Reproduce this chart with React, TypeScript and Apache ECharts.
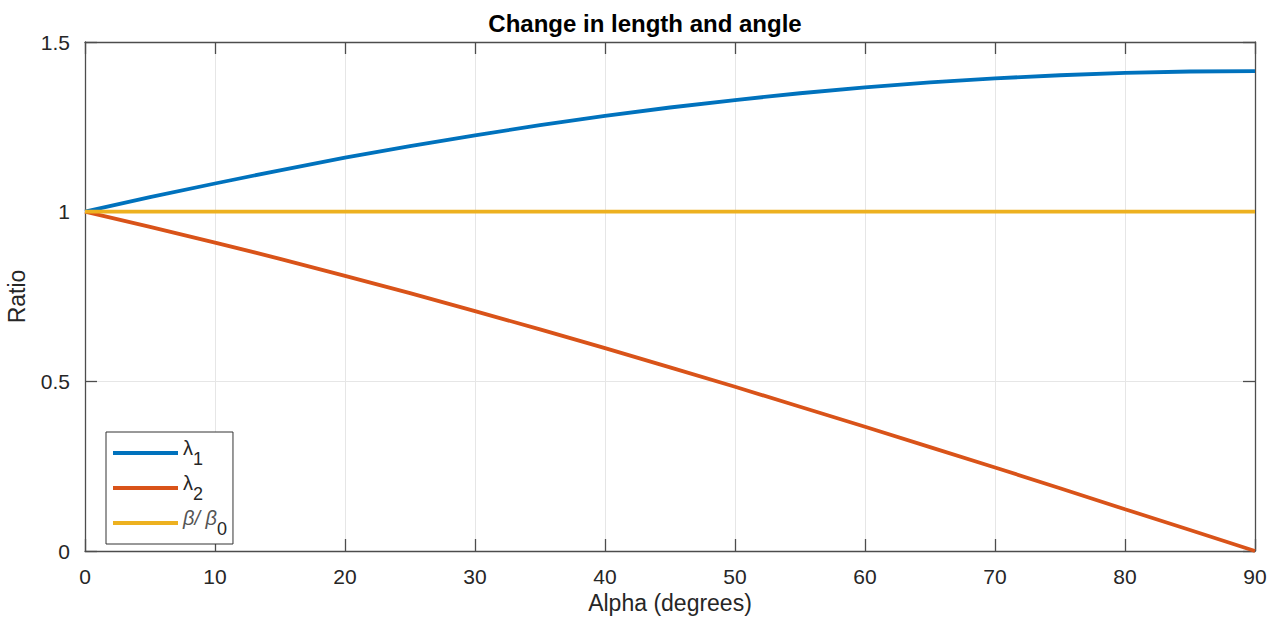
import React, { useEffect, useRef } from "react";
import * as echarts from "echarts";

const alphaDeg = [0, 5, 10, 15, 20, 25, 30, 35, 40, 45, 50, 55, 60, 65, 70, 75, 80, 85, 90];
const lambda1 = [1.0, 1.043, 1.083, 1.122, 1.159, 1.193, 1.225, 1.255, 1.282, 1.307, 1.329, 1.349, 1.366, 1.381, 1.393, 1.402, 1.409, 1.413, 1.414];
const lambda2 = [1.0, 0.955, 0.909, 0.861, 0.811, 0.760, 0.707, 0.653, 0.598, 0.541, 0.484, 0.425, 0.366, 0.306, 0.246, 0.185, 0.123, 0.062, 0.0];
const betaRatio = [1, 1, 1, 1, 1, 1, 1, 1, 1, 1, 1, 1, 1, 1, 1, 1, 1, 1, 1];
const xTicks = [0, 10, 20, 30, 40, 50, 60, 70, 80, 90];
const yTicks = [0, 0.5, 1, 1.5];

const FONT = "Liberation Sans, Arial, Helvetica, sans-serif";
const AXIS_COLOR = "#4d4d4d";
const TEXT_COLOR = "#262626";
const GRID_COLOR = "#e6e6e6";

export default function App() {
  const ref = useRef<HTMLDivElement>(null);
  useEffect(() => {
    document.body.style.margin = "0";
    document.body.style.overflow = "hidden";
    if (!ref.current) return;
    const chart = echarts.init(ref.current, null, { renderer: "svg" });
    const pair = (ys: number[]) => alphaDeg.map((x, i) => [x, ys[i]]);
    const baseX = {
      type: "value" as const,
      min: xTicks[0],
      max: xTicks[xTicks.length - 1],
      interval: 10,
      axisLine: { show: true, onZero: false, lineStyle: { color: AXIS_COLOR, width: 1.3 } },
      axisTick: { show: true, inside: true, length: 12, lineStyle: { color: AXIS_COLOR, width: 1.3 } },
    };
    const baseY = {
      type: "value" as const,
      min: yTicks[0],
      max: yTicks[yTicks.length - 1],
      interval: 0.5,
      axisLine: { show: true, onZero: false, lineStyle: { color: AXIS_COLOR, width: 1.3 } },
      axisTick: { show: true, inside: true, length: 12, lineStyle: { color: AXIS_COLOR, width: 1.3 } },
    };
    const rich = {
      l: { fontFamily: FONT, fontSize: 20, color: TEXT_COLOR, lineHeight: 30, verticalAlign: "top" as const },
      it: { fontFamily: FONT, fontSize: 20, fontStyle: "italic" as const, color: "#555", lineHeight: 30, verticalAlign: "top" as const },
      sub: { fontFamily: FONT, fontSize: 18, color: TEXT_COLOR, lineHeight: 30, verticalAlign: "bottom" as const },
    };
    chart.setOption({
      animation: false,
      backgroundColor: "#ffffff",
      title: {
        text: "Change in length and angle",
        left: 640,
        top: 6,
        textAlign: "center",
        textStyle: { fontFamily: FONT, fontSize: 24, fontWeight: "bold", color: "#000" },
      },
      grid: { left: 85, top: 42, width: 1170, height: 509, containLabel: false, outerBoundsMode: "none" },
      legend: {
        orient: "vertical",
        left: 106,
        top: 432,
        width: 126,
        padding: [6, 6, 6, 7],
        itemGap: 5,
        itemWidth: 65,
        itemHeight: 4,
        icon: "rect",
        borderColor: "#333",
        borderWidth: 1,
        backgroundColor: "#fff",
        data: ["λ1", "λ2", "β/β0"],
        formatter: (name: string) => {
          if (name === "λ1") return "{l|λ}{sub|1}";
          if (name === "λ2") return "{l|λ}{sub|2}";
          return "{it|β/ β}{sub|0}";
        },
        textStyle: { rich, padding: [0, 0, 0, 0] },
      },
      xAxis: [
        {
          ...baseX,
          position: "bottom",
          name: "Alpha (degrees)",
          nameLocation: "middle",
          nameGap: 40,
          nameTextStyle: { fontFamily: FONT, fontSize: 23, color: TEXT_COLOR },
          axisLabel: { fontFamily: FONT, fontSize: 21, color: TEXT_COLOR, margin: 15 },
          splitLine: { show: true, lineStyle: { color: GRID_COLOR, width: 1 } },
        },
        {
          ...baseX,
          position: "top",
          axisLabel: { show: false },
          splitLine: { show: false },
        },
      ],
      yAxis: [
        {
          ...baseY,
          position: "left",
          name: "Ratio",
          nameLocation: "middle",
          nameGap: 57,
          nameTextStyle: { fontFamily: FONT, fontSize: 23, color: TEXT_COLOR },
          axisLabel: { fontFamily: FONT, fontSize: 21, color: TEXT_COLOR, margin: 15, formatter: (v: number) => String(v) },
          splitLine: { show: true, lineStyle: { color: GRID_COLOR, width: 1 } },
        },
        {
          ...baseY,
          position: "right",
          axisLabel: { show: false },
          splitLine: { show: false },
        },
      ],
      series: [
        {
          name: "λ1",
          type: "line",
          data: pair(lambda1),
          showSymbol: false,
          lineStyle: { color: "#0072BD", width: 3.8 },
          itemStyle: { color: "#0072BD" },
          z: 3,
        },
        {
          name: "λ2",
          type: "line",
          data: pair(lambda2),
          showSymbol: false,
          lineStyle: { color: "#D95319", width: 3.8 },
          itemStyle: { color: "#D95319" },
          z: 3,
        },
        {
          name: "β/β0",
          type: "line",
          data: pair(betaRatio),
          showSymbol: false,
          lineStyle: { color: "#EDB120", width: 3.8 },
          itemStyle: { color: "#EDB120" },
          z: 3,
        },
      ],
    });
    return () => chart.dispose();
  }, []);
  return (
    <div
      ref={ref}
      style={{ position: "fixed", left: 0, top: 0, width: 1277, height: 618 }}
    />
  );
}
